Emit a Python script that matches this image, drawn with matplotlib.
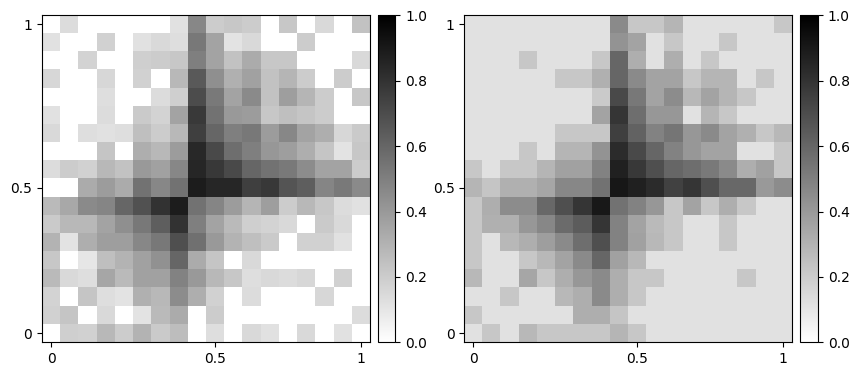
import numpy as np
import matplotlib
matplotlib.use('Agg')
import matplotlib.pyplot as plt

# values, top row first
left_values = [
    [0, .14, 0, 0, 0, 0, 0, .12, .47, .2, .22, .2, 0, .22, 0, .15, 0, .24],
    [.12, 0, 0, .18, 0, .12, .15, .13, .53, .36, .11, .15, 0, 0, .2, 0, 0, 0],
    [0, 0, .17, 0, 0, .19, .2, .22, .5, .36, .24, .33, .22, .22, 0, 0, 0, .15],
    [.16, 0, 0, .16, 0, .18, 0, .28, .65, .44, .31, .37, .24, .29, .2, 0, .2, 0],
    [0, 0, 0, .13, 0, 0, .14, .19, .7, .52, .36, .46, .24, .38, .29, .2, 0, .22],
    [.12, 0, 0, .14, 0, .21, .17, .36, .77, .55, .4, .39, .22, .25, .23, .2, 0, 0],
    [.15, 0, .13, .12, .13, .25, .2, .28, .75, .6, .5, .53, .39, .47, .36, .32, .16, .21],
    [0, 0, 0, .23, 0, .32, .28, .39, .84, .71, .57, .5, .41, .38, .32, .23, .11, .22],
    [.14, .2, .18, .28, .24, .4, .37, .47, .85, .78, .71, .6, .55, .52, .45, .36, .36, .2],
    [0, 0, .33, .39, .33, .55, .47, .55, .89, .85, .85, .75, .78, .67, .63, .48, .52, .46],
    [.27, .34, .46, .48, .6, .68, .8, .89, .55, .48, .39, .29, .38, .2, .28, .22, .14, .12],
    [.21, .28, .28, .36, .44, .53, .63, .8, .5, .36, .27, .19, .17, .15, 0, .21, .15, 0],
    [.3, .11, .32, .38, .38, .47, .53, .69, .56, .4, .3, .25, .21, 0, .18, .18, .12, 0],
    [.22, 0, .1, .25, .3, .37, .43, .6, .33, .23, 0, .15, 0, 0, 0, 0, 0, 0],
    [.27, .15, .13, .35, .27, .37, .37, .49, .4, .28, .22, .13, .15, .14, .16, 0, .18, 0],
    [.17, 0, .23, .13, .11, .31, .28, .45, .32, .18, 0, .14, 0, 0, 0, .16, 0, 0],
    [.18, .23, 0, .15, 0, .11, .27, .33, 0, .2, 0, 0, 0, 0, 0, 0, 0, .14],
    [0, .19, .18, .28, .2, .3, .21, .26, 0, .13, 0, .15, .12, 0, .15, 0, .12, 0],
]

right_values = [
    [.12, .12, .12, .12, .12, .12, .12, .12, .46, .22, .22, .29, .12, .12, .12, .12, .12, .22],
    [.12, .12, .12, .12, .12, .12, .12, .12, .42, .36, .12, .22, .12, .12, .22, .12, .12, .12],
    [.12, .12, .12, .22, .12, .12, .12, .22, .6, .32, .12, .32, .12, .22, .12, .12, .12, .12],
    [.12, .12, .12, .12, .12, .22, .22, .31, .6, .46, .36, .36, .22, .29, .29, .12, .22, .12],
    [.12, .12, .12, .12, .12, .12, .12, .21, .71, .53, .36, .45, .28, .36, .29, .22, .12, .12],
    [.12, .12, .12, .12, .12, .12, .12, .36, .79, .57, .41, .41, .12, .29, .22, .12, .12, .12],
    [.12, .12, .12, .12, .12, .22, .22, .22, .75, .61, .49, .54, .41, .46, .36, .31, .22, .28],
    [.12, .12, .12, .22, .12, .29, .29, .42, .83, .71, .6, .49, .41, .36, .36, .12, .12, .22],
    [.22, .12, .22, .22, .29, .37, .37, .49, .87, .78, .69, .6, .57, .52, .46, .32, .37, .22],
    [.29, .23, .31, .31, .35, .47, .47, .55, .91, .87, .83, .74, .79, .69, .59, .59, .4, .45],
    [.22, .32, .45, .45, .59, .69, .79, .9, .55, .49, .41, .22, .36, .22, .32, .22, .12, .12],
    [.22, .31, .31, .41, .47, .58, .64, .79, .49, .36, .27, .22, .12, .12, .22, .12, .12, .12],
    [.22, .12, .28, .32, .38, .46, .57, .69, .49, .37, .28, .22, .12, .12, .22, .12, .12, .12],
    [.22, .12, .12, .22, .28, .36, .46, .6, .37, .28, .12, .12, .12, .12, .12, .12, .12, .12],
    [.28, .12, .12, .35, .22, .32, .41, .46, .32, .22, .22, .12, .12, .12, .12, .22, .12, .12],
    [.12, .12, .22, .12, .12, .28, .32, .46, .32, .22, .12, .12, .12, .12, .12, .12, .12, .12],
    [.22, .12, .12, .12, .12, .12, .32, .32, .23, .12, .12, .12, .12, .12, .12, .12, .12, .12],
    [.12, .22, .12, .28, .22, .22, .22, .22, .29, .22, .12, .12, .12, .12, .12, .12, .12, .12],
]

tick_positions = [0, 9, 17]
x_tick_labels = ['0', '0.5', '1']
y_tick_labels = ['1', '0.5', '0']

W, H = 858, 376
fig = plt.figure(figsize=(W / 100, H / 100), dpi=100)


def box(x0, y0, x1, y1):
    # pixel box (top-left origin) to figure fractions
    return [x0 / W, 1 - y1 / H, (x1 - x0) / W, (y1 - y0) / H]


panels = [
    (left_values, box(42, 15.4, 369.6, 342.4), box(377.6, 15.4, 395.4, 342.4)),
    (right_values, box(464.4, 15.4, 792, 342.4), box(800, 15.4, 818, 342.4)),
]

for values, ax_box, cax_box in panels:
    ax = fig.add_axes(ax_box)
    im = ax.imshow(np.array(values), cmap='gray_r', vmin=0, vmax=1,
                   interpolation='nearest', aspect='auto')
    ax.set_xticks(tick_positions)
    ax.set_xticklabels(x_tick_labels)
    ax.set_yticks(tick_positions)
    ax.set_yticklabels(y_tick_labels)
    cax = fig.add_axes(cax_box)
    fig.colorbar(im, cax=cax)

plt.savefig('out.png', dpi=100)
